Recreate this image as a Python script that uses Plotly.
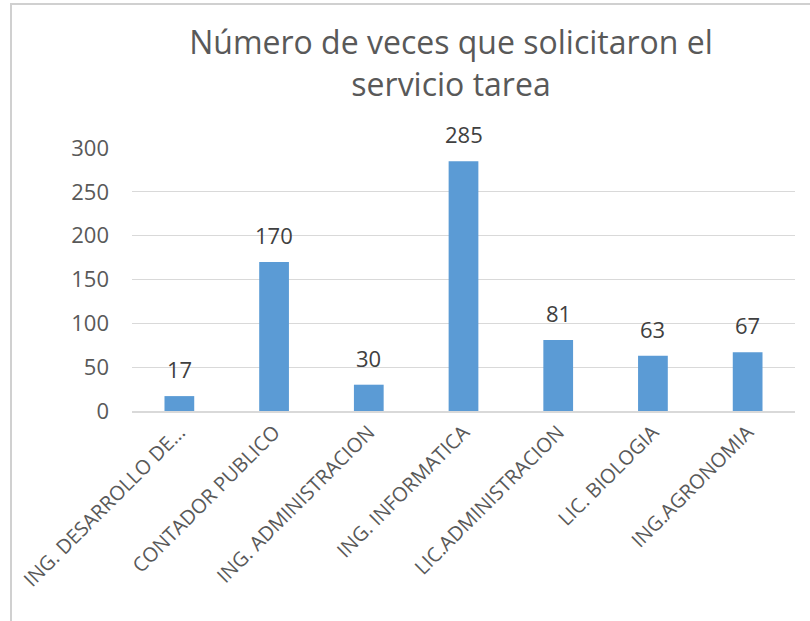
import plotly.graph_objects as go

categories = ["ING. DESARROLLO DE...", "CONTADOR PUBLICO", "ING. ADMINISTRACION",
              "ING. INFORMATICA", "LIC.ADMINISTRACION", "LIC. BIOLOGIA", "ING.AGRONOMIA"]
values = [17, 170, 30, 285, 81, 63, 67]
y_ticks = [0, 50, 100, 150, 200, 250, 300]
title_text = "Número de veces que solicitaron el<br>servicio tarea"

W, H = 810, 621
L, R, T, B = 132, 15, 148, 210
pw, ph = W - L - R, H - T - B

fig = go.Figure(go.Bar(
    x=categories, y=values,
    marker=dict(color="#5B9BD5", line=dict(width=0)),
    hoverinfo="x+y",
))

for c, v in zip(categories, values):
    fig.add_annotation(x=c, y=v, text=str(v), showarrow=False, yanchor="bottom",
                       yshift=10, font=dict(size=22, color="#404040", family="Open Sans"))

fig.update_layout(
    width=W, height=H,
    margin=dict(l=L, r=R, t=T, b=B, autoexpand=False),
    paper_bgcolor="white", plot_bgcolor="white",
    bargap=0.686,
    showlegend=False,
    title=dict(text=title_text, x=451 / W, xanchor="center", xref="container",
               y=1 - 54 / H, yanchor="top", yref="container",
               font=dict(size=32, color="#595959", family="Open Sans")),
    font=dict(family="Open Sans", color="#595959"),
)
fig.update_yaxes(range=[0, 300], tickvals=y_ticks, showgrid=True, gridcolor="#D9D9D9",
                 gridwidth=1.3, zeroline=False, showline=False, ticks="",
                 tickfont=dict(size=22, color="#595959"), ticklen=0, ticklabelstandoff=22,
                 automargin=False)
fig.update_xaxes(tickangle=-45, showline=True, linecolor="#D9D9D9", linewidth=1.5,
                 ticks="", tickfont=dict(size=20, color="#595959"), automargin=False)

fig.add_shape(type="rect", xref="paper", yref="paper",
              x0=(11 - L) / pw, x1=1.2, y0=-1.5, y1=(H - B - 4) / ph,
              line=dict(color="#D0D0D0", width=2), fillcolor="rgba(0,0,0,0)", layer="below")

fig.write_html("out.html", config={"displayModeBar": False},
               post_script="document.body.style.margin='0';")
